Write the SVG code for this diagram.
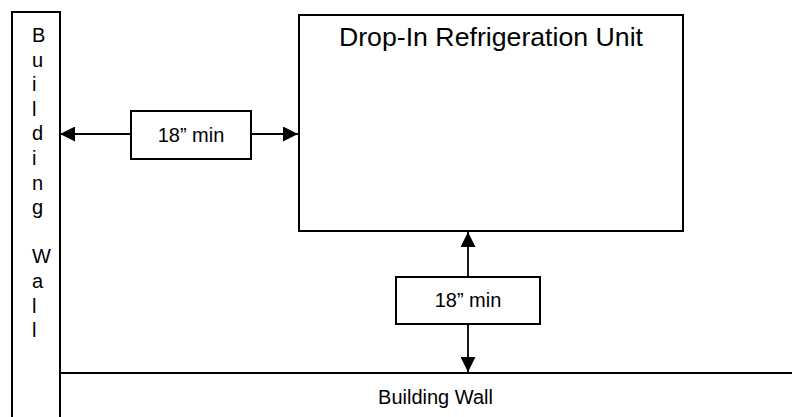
<svg xmlns="http://www.w3.org/2000/svg" width="792" height="417" viewBox="0 0 792 417">
<style>
.shape{fill:#fff;stroke:#000;stroke-width:2}
.lbl{font-family:"Liberation Sans",Arial,sans-serif;font-size:20px;fill:#000}
.title{font-family:"Liberation Sans",Arial,sans-serif;font-size:26.7px;fill:#000}
.conn{stroke:#000;stroke-width:1.8;fill:none;marker-end:url(#ah)}
</style>
<defs>
<marker id="ah" viewBox="0 0 15 15" refX="15" refY="7.5" markerWidth="15" markerHeight="15" markerUnits="userSpaceOnUse" orient="auto">
<path d="M0,0 L15,7.5 L0,15 z" fill="#000"/>
</marker>
</defs>
<rect width="792" height="417" fill="#fff"/>
<g id="bottom-wall">
<rect class="shape" x="60" y="373" width="760" height="60"/>
<text class="lbl" x="435.5" y="404" text-anchor="middle">Building Wall</text>
</g>
<g id="left-wall">
<rect class="shape" x="12" y="12" width="48" height="430"/>
<text class="lbl" x="32" y="42"><tspan x="32" y="42">B</tspan><tspan x="32" dy="24.6">u</tspan><tspan x="32" dy="24.6">i</tspan><tspan x="32" dy="24.6">l</tspan><tspan x="32" dy="24.6">d</tspan><tspan x="32" dy="24.6">i</tspan><tspan x="32" dy="24.6">n</tspan><tspan x="32" dy="24.6">g</tspan><tspan x="32" dy="49.2">W</tspan><tspan x="32" dy="24.6">a</tspan><tspan x="32" dy="24.6">l</tspan><tspan x="32" dy="24.6">l</tspan></text>
</g>
<g id="unit">
<rect class="shape" x="299" y="15" width="384" height="216"/>
<text class="title" x="491" y="46" text-anchor="middle">Drop-In Refrigeration Unit</text>
</g>
<g id="connectors">
<line class="conn" x1="131" y1="134" x2="60" y2="134"/>
<line class="conn" x1="251" y1="134" x2="298" y2="134"/>
<line class="conn" x1="468" y1="277" x2="468" y2="232"/>
<line class="conn" x1="468" y1="324" x2="468" y2="372"/>
</g>
<g id="side-clearance">
<rect class="shape" x="131" y="111" width="120" height="48"/>
<text class="lbl" x="191" y="142" text-anchor="middle">18” min</text>
</g>
<g id="bottom-clearance">
<rect class="shape" x="396" y="277" width="144" height="47"/>
<text class="lbl" x="468" y="307" text-anchor="middle">18” min</text>
</g>
</svg>
